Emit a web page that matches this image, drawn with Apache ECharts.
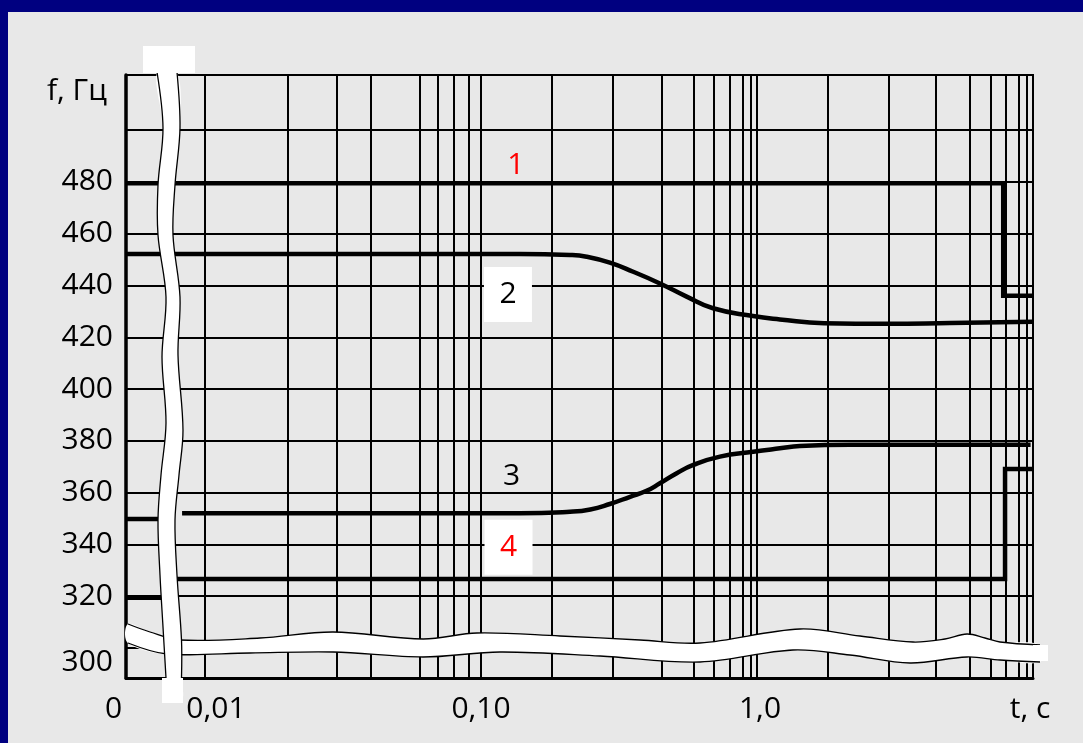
<!DOCTYPE html>
<html>
<head>
<meta charset="utf-8">
<script src="https://cdn.jsdelivr.net/npm/echarts@6/dist/echarts.min.js"></script>
<style>
html,body{margin:0;padding:0;background:#000080;width:1083px;height:743px;overflow:hidden;}
#bg{position:absolute;left:8px;top:12px;width:1075px;height:731px;background:#e8e8e8;}
#chart{position:absolute;left:0;top:0;width:1083px;height:743px;}
</style>
</head>
<body>
<div id="bg"></div>
<div id="chart"></div>
<script>
// ---- axis ranges (t is on a broken log axis, its left end stands for t = 0) ----
const xMin = 0.005174;
const xMax = 10;
const yMin = 288.4;
const yMax = 521.3;

// ---- tick labels ----
const xTickValues = [xMin, 0.01, 0.1, 1, 10];
const xTickLabels = ['0', '0,01', '0,10', '1,0', 't, c'];
const yTickValues = [300, 320, 340, 360, 380, 400, 420, 440, 460, 480];
const yName = 'f, Гц';

// ---- grid lines (hand-drawn log-like paper) ----
const yGridValues = [300, 320, 340, 360, 380, 400, 420, 440, 460, 480, 500];
const xGridValues = [0.01, 0.018, 0.03, 0.0445, 0.059, 0.0705, 0.0795, 0.089, 0.095,
                     0.1, 0.18, 0.3, 0.445, 0.59, 0.705, 0.795, 0.89, 0.95,
                     1, 1.8, 3, 4.45, 5.9, 7.05, 7.95, 8.9, 9.5];

// ---- curves: [t, f] ----
const curve1 = [[xMin, 479.5], [7.8, 479.5], [7.8, 436], [10, 436]];
const curve2 = [[xMin, 452.2], [0.138, 452.2], [0.21, 451.8], [0.2415, 451.1], [0.293, 448.8],
                [0.356, 445.3], [0.445, 440.8], [0.556, 435.7], [0.693, 431.2], [0.967, 428.2],
                [1.21, 426.9], [1.75, 425.4], [2.96, 425.2], [5, 425.5], [10, 426]];
const curve3 = [[xMin, 349.8], [0.0069, 349.8], [0.0075, '-'], [0.00826, 352.0], [0.138, 352.0],
                [0.21, 352.6], [0.249, 353.5], [0.293, 355.6], [0.347, 358.4], [0.398, 360.7],
                [0.445, 363.6], [0.512, 367.5], [0.588, 370.7], [0.734, 373.9], [0.969, 375.8],
                [1.21, 377.1], [1.43, 378.0], [2.17, 378.5], [4, 378.5], [9.8, 378.5]];
const curve4 = [[xMin, 319.4], [0.0075, 319.4], [0.0077, '-'], [0.0079, 326.6], [7.92, 326.6],
                [7.92, 369.1], [10, 369.1]];

// ---- curve number labels ----
const curveNames = ['1', '2', '3', '4'];
const curveNameT = [0.1337, 0.1284, 0.1291, 0.129];
const curveNameF = [486.5, 435.0, 366.1, 337.4];
const curveNameBoxed = [false, true, false, true];
const curveNameColor = ['#ff0000', '#000000', '#000000', '#ff0000'];

const FONT = '"Open Sans", "Noto Sans", "DejaVu Sans", sans-serif';
const TXT = '#000000';

function fmtX(v) {
  let best = -1, bd = 1e9;
  xTickValues.forEach(function (t, i) {
    const d = Math.abs(Math.log10(v) - Math.log10(t));
    if (d < bd) { bd = d; best = i; }
  });
  if (bd > 0.02) return '';
  const key = ['z', 'a', 'b', 'c', 't'][best];
  return '{' + key + '|' + xTickLabels[best] + '}';
}
function fmtY(v) {
  return v === 300 ? '{l|' + v + '}' : '{n|' + v + '}';
}

const lineBase = {
  type: 'line', showSymbol: false, symbol: 'none', silent: true, z: 4,
  connectNulls: false,
  lineStyle: { color: '#000', width: 4.5, cap: 'butt', join: 'miter', opacity: 1 },
  emphasis: { disabled: true }
};

const chart = echarts.init(document.getElementById('chart'), null, { renderer: 'canvas' });
const richBase = { fontSize: 30, fontFamily: FONT, color: TXT };

const option = {
  animation: false,
  backgroundColor: 'transparent',
  textStyle: { fontFamily: FONT },
  grid: { left: 126, top: 75, right: 50, bottom: 65, show: true, borderColor: '#000', borderWidth: 2,
          backgroundColor: 'transparent' },
  xAxis: {
    type: 'log', logBase: 10, min: xMin, max: xMax,
    axisLine: { show: true, onZero: false, lineStyle: { color: '#000', width: 3 } },
    axisTick: { show: false }, minorTick: { show: false },
    splitLine: { show: false }, minorSplitLine: { show: false },
    axisLabel: {
      show: true, showMinLabel: true, showMaxLabel: true, margin: 16,
      fontSize: 30, fontFamily: FONT, color: TXT, formatter: fmtX,
      rich: {
        z: Object.assign({ padding: [0, 25, 18, 0] }, richBase),
        a: Object.assign({ padding: [0, 0, 0, 22] }, richBase),
        b: Object.assign({}, richBase),
        c: Object.assign({ padding: [0, 0, 0, 6] }, richBase),
        t: Object.assign({ padding: [0, 6, 0, 0] }, richBase)
      }
    }
  },
  yAxis: {
    type: 'value', min: yMin, max: yMax,
    name: yName, nameLocation: 'end', nameGap: -16,
    nameTextStyle: { fontSize: 30, fontFamily: FONT, color: TXT, align: 'right', verticalAlign: 'middle',
                     padding: [0, 19, 0, 0] },
    axisLine: { show: true, onZero: false, lineStyle: { color: '#000', width: 3.5 } },
    axisTick: { show: false },
    splitLine: { show: false },
    axisLabel: {
      show: true, customValues: yTickValues, margin: 13, fontSize: 30, fontFamily: FONT, color: TXT,
      formatter: fmtY,
      rich: {
        n: Object.assign({}, richBase),
        l: Object.assign({ padding: [29, 0, 0, 0] }, richBase)
      }
    }
  },
  series: [
    {
      type: 'line', data: [[xMin, yMin]], showSymbol: false, symbol: 'none', silent: true,
      lineStyle: { width: 0 }, z: 1,
      markLine: {
        silent: true, symbol: ['none', 'none'], z: 1, animation: false,
        label: { show: false }, emphasis: { disabled: true },
        lineStyle: { color: '#000', width: 2, type: 'solid', opacity: 1 },
        data: yGridValues.map(function (v) { return { yAxis: v }; })
          .concat(xGridValues.map(function (v) { return { xAxis: v }; }))
      }
    },
    {
      type: 'scatter', silent: true, z: 3,
      itemStyle: { opacity: 1 },
      data: curveNames.map(function (n, i) {
        return {
          value: [curveNameT[i], curveNameF[i]],
          symbol: 'rect',
          symbolSize: curveNameBoxed[i] ? [48, 55] : 0,
          symbolOffset: curveNameBoxed[i] ? [-3, -4] : [0, 0],
          itemStyle: { color: '#ffffff', opacity: 1 },
          label: {
            show: true, position: 'inside', formatter: n, fontSize: 30, fontFamily: FONT,
            color: curveNameColor[i], opacity: 1
          }
        };
      }),
      emphasis: { disabled: true }
    },
    Object.assign({ name: '1', data: curve1 }, lineBase),
    Object.assign({ name: '2', data: curve2, smooth: 0.5 }, lineBase),
    Object.assign({ name: '3', data: curve3, smooth: 0.5 }, lineBase),
    Object.assign({ name: '4', data: curve4 }, lineBase)
  ]
};

chart.setOption(option);

// ---- axis-break bands (decoration, drawn as wavy white strips) ----
(function () {
  const vL = [[157,72],[163,128],[158,185],[158,235],[166,297],[162,357],[166,423],[161,475],[158,520],[160,575],[163,627],[166,678],[166,700]];
  const vR = [[177,72],[180,128],[175,185],[173,235],[180,297],[178,355],[183,430],[179,475],[175,520],[177,575],[181.5,640],[181.5,678],[182,700]];
  const hU = [[128,624],[150,632],[180,640],[260,638],[333,632],[423,639],[477,633],[560,636],[640,640],[700,643],[800,629],[860,636],[913,642],[945,639],[967,634],[985,638],[1000,642],[1040,645]];
  const hL = [[128,643],[167,654],[250,653],[333,652],[423,657],[500,652],[600,656],[700,662],[793,650],[850,655],[910,663],[967,657],[1000,660],[1040,662]];
  const SM = 0.35;
  const edge = { stroke: '#000', lineWidth: 1.3, fill: null };
  const g = [];
  g.push({ type: 'polygon', z: 50, silent: true, shape: { points: hU.concat(hL.slice().reverse()), smooth: SM }, style: { fill: '#fff', stroke: null } });
  g.push({ type: 'polyline', z: 51, silent: true, shape: { points: hU, smooth: SM }, style: edge });
  g.push({ type: 'polyline', z: 51, silent: true, shape: { points: hL, smooth: SM }, style: edge });
  g.push({ type: 'rect', z: 52, silent: true, shape: { x: 1033, y: 645, width: 15, height: 16 }, style: { fill: '#fff' } });
  g.push({ type: 'polygon', z: 53, silent: true, shape: { points: vL.concat(vR.slice().reverse()), smooth: SM }, style: { fill: '#fff', stroke: null } });
  g.push({ type: 'polyline', z: 54, silent: true, shape: { points: vL.slice(0, 12), smooth: SM }, style: edge });
  g.push({ type: 'polyline', z: 54, silent: true, shape: { points: vR.slice(0, 12), smooth: SM }, style: edge });
  g.push({ type: 'rect', z: 55, silent: true, shape: { x: 143, y: 46, width: 52, height: 27 }, style: { fill: '#fff' } });
  g.push({ type: 'rect', z: 55, silent: true, shape: { x: 162, y: 678, width: 21, height: 25 }, style: { fill: '#fff' } });
  chart.setOption({ graphic: { elements: g } });
})();
</script>
</body>
</html>
